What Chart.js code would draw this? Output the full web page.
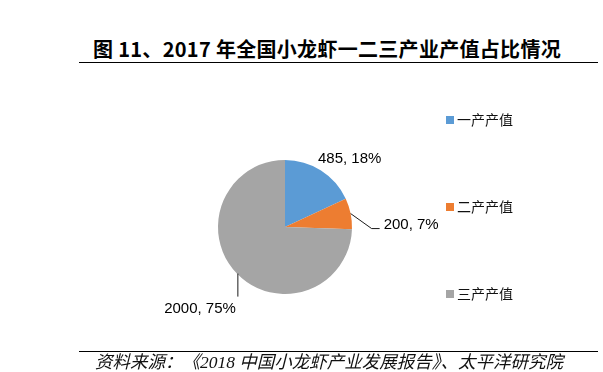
<!DOCTYPE html>
<html>
<head>
<meta charset="utf-8">
<script src="https://cdn.jsdelivr.net/npm/chart.js@4"></script>
<style>
  html, body { margin: 0; padding: 0; background: #fff; }
  #wrap { position: relative; width: 603px; height: 372px; overflow: hidden; }
  #c { position: absolute; left: 0; top: 0; }
  .title { position: absolute; left: 93px; top: 36px; font: bold 20px "Noto Sans CJK SC", sans-serif; letter-spacing: 0.3px; color: #000; white-space: nowrap; line-height: 26px; }
  .rule { position: absolute; left: 79px; width: 519px; height: 1px; background: #000; }
  .foot { position: absolute; left: 95px; top: 351px; font: italic 17.5px "Liberation Serif", "Noto Sans CJK SC", serif; color: #111; white-space: nowrap; line-height: 22px; }
</style>
</head>
<body>
<div id="wrap">
  <div class="title" id="title"></div>
  <div class="rule" style="top:62px"></div>
  <canvas id="c" width="603" height="372"></canvas>
  <div class="rule" style="top:351px"></div>
  <div class="foot" id="foot"></div>
</div>
<script>
// ---- data ----
const titleText = "图 11、2017 年全国小龙虾一二三产业产值占比情况";
const sourceText = "资料来源：《2018 中国小龙虾产业发展报告》、太平洋研究院";
const categories = ["一产产值", "二产产值", "三产产值"];
const values = [485, 200, 2000];
const percentLabels = ["18%", "7%", "75%"];
const colors = ["#5B9BD5", "#ED7D31", "#A5A5A5"];

document.getElementById('title').textContent = titleText;
document.getElementById('foot').textContent = sourceText;

// ---- label layout (styles, relative to each slice's outer mid-point) ----
const labelLayout = [
  { dx: -3, dy: -12, align: 'left', leader: null },
  { dx: 33, dy: 11, align: 'left', leader: [[0, 0], [21, 15], [29, 15]] },
  { dx: -1, dy: 35, align: 'right', leader: [[1, 0], [1, 23]] }
];
const legendLayout = { x: 446, y: 120, step: 87, box: 8, gap: 3 };

const labelPlugin = {
  id: 'sliceLabels',
  afterDatasetsDraw(chart) {
    const ctx = chart.ctx;
    const meta = chart.getDatasetMeta(0);
    ctx.save();
    meta.data.forEach((arc, i) => {
      const p = arc.getProps(['x', 'y', 'startAngle', 'endAngle', 'outerRadius'], true);
      const mid = (p.startAngle + p.endAngle) / 2;
      const ax = p.x + Math.cos(mid) * p.outerRadius;
      const ay = p.y + Math.sin(mid) * p.outerRadius;
      const L = labelLayout[i];
      if (L.leader) {
        ctx.beginPath();
        ctx.strokeStyle = '#1a1a1a';
        ctx.lineWidth = 1;
        L.leader.forEach((pt, k) => {
          const px = ax + pt[0], py = ay + pt[1];
          if (k === 0) ctx.moveTo(px, py); else ctx.lineTo(px, py);
        });
        ctx.stroke();
      }
      ctx.fillStyle = '#000';
      ctx.font = '15px "Liberation Sans", Arial, sans-serif';
      ctx.textAlign = L.align;
      ctx.textBaseline = 'middle';
      ctx.fillText(values[i] + ', ' + percentLabels[i], ax + L.dx, ay + L.dy);
    });
    // legend
    const items = chart.data.labels;
    items.forEach((lab, i) => {
      const cy = legendLayout.y + i * legendLayout.step;
      ctx.fillStyle = chart.data.datasets[0].backgroundColor[i];
      ctx.fillRect(legendLayout.x, cy - legendLayout.box / 2, legendLayout.box, legendLayout.box);
      ctx.fillStyle = '#111';
      ctx.font = '14px "Noto Sans CJK SC", sans-serif';
      ctx.textAlign = 'left';
      ctx.textBaseline = 'middle';
      ctx.fillText(lab, legendLayout.x + legendLayout.box + legendLayout.gap, cy);
    });
    ctx.restore();
  }
};

new Chart(document.getElementById('c'), {
  type: 'pie',
  data: {
    labels: categories,
    datasets: [{ data: values, backgroundColor: colors, borderWidth: 0 }]
  },
  options: {
    responsive: false,
    animation: false,
    layout: { padding: { left: 218, right: 251, top: 160, bottom: 78 } },
    plugins: { legend: { display: false }, tooltip: { enabled: false } }
  },
  plugins: [labelPlugin]
});
</script>
</body>
</html>
